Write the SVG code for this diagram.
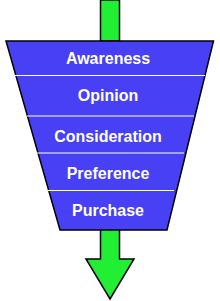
<svg xmlns="http://www.w3.org/2000/svg" width="220" height="301" viewBox="0 0 220 301">
<style>
.lbl{font-family:"Liberation Sans",Arial,sans-serif;font-weight:bold;font-size:16px;fill:#fff;text-anchor:middle}
.div{stroke:#fff;stroke-width:1.2}
.arrow{fill:#22ee33;stroke:#000;stroke-width:1.5}
</style>
<g id="connectors">
<rect class="arrow" x="100.5" y="0" width="19" height="41"/>
<path class="arrow" d="M100.5,230 L100.5,259 L86,259 L110,299 L134,259 L119.5,259 L119.5,230"/>
</g>
<g id="funnel">
<path d="M6,41 L213.5,41 L167,230 L60,230 Z" fill="#4840f4" stroke="#000" stroke-width="1.5"/>
<line class="div" x1="15" y1="75.5" x2="205" y2="75.5"/>
<line class="div" x1="27" y1="116" x2="194" y2="116"/>
<line class="div" x1="37" y1="153" x2="184" y2="153"/>
<line class="div" x1="48" y1="190.5" x2="174" y2="190.5"/>
</g>
<g id="awareness"><text class="lbl" x="108" y="64">Awareness</text></g>
<g id="opinion"><text class="lbl" x="108" y="101">Opinion</text></g>
<g id="consideration"><text class="lbl" x="108" y="141.5">Consideration</text></g>
<g id="preference"><text class="lbl" x="108" y="178.5">Preference</text></g>
<g id="purchase"><text class="lbl" x="108" y="216">Purchase</text></g>
</svg>
